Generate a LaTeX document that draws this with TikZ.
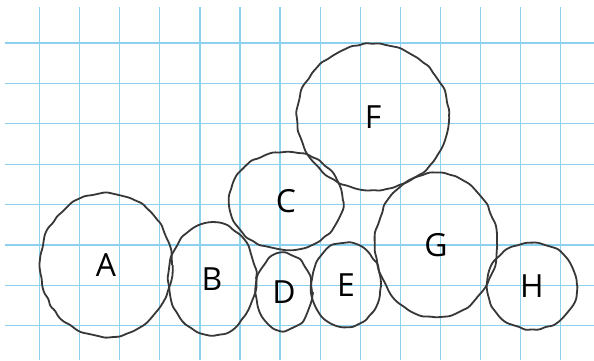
\documentclass[tikz,border=0pt]{standalone}
\usepackage{fontspec}
\setsansfont{Open Sans}
\usepackage{xcolor}
\usetikzlibrary{shapes.geometric,decorations.pathmorphing}
\definecolor{gridblue}{RGB}{140,210,238}
\definecolor{pencil}{RGB}{55,55,55}

\begin{document}
\begin{tikzpicture}[x=1bp, y=-1bp, line width=1.8bp,
    gridline/.style={gridblue, line width=1.3bp},
    bubble/.style={ellipse, draw=pencil, inner sep=0pt,
      font=\sffamily\fontsize{32}{32}\selectfont,
      decorate, decoration={random steps, segment length=7bp, amplitude=1.1bp},
      rounded corners=2.5bp}]
    \pgfmathsetseed{7}
    \fill[white] (0,0) rectangle (594,360);
    \useasboundingbox (0,0) rectangle (594,360);
    % squared paper
    \foreach \gx in {0,...,13}
        \draw[gridline] ({39.5+40.1*\gx},7) -- ({39.5+40.1*\gx},360);
    \foreach \gy in {0,...,7}
        \draw[gridline] (5,{43+40.4*\gy}) -- (594,{43+40.4*\gy});
    % the bubbles
    \node[bubble, minimum width=132bp, minimum height=144bp] (a) at (106,265) {A};
    \node[bubble, minimum width=88bp, minimum height=112bp] (b) at (212,279) {B};
    \node[bubble, minimum width=114bp, minimum height=98bp] (c) at (286,201) {C};
    \node[bubble, minimum width=56bp, minimum height=76bp] (d) at (284,292) {D};
    \node[bubble, minimum width=70bp, minimum height=84bp] (e) at (346,285) {E};
    \node[bubble, minimum width=152bp, minimum height=146bp] (f) at (373,117) {F};
    \node[bubble, minimum width=122bp, minimum height=144bp] (g) at (436,245) {G};
    \node[bubble, minimum width=90bp, minimum height=86bp] (h) at (532,286) {H};
\end{tikzpicture}
\end{document}
